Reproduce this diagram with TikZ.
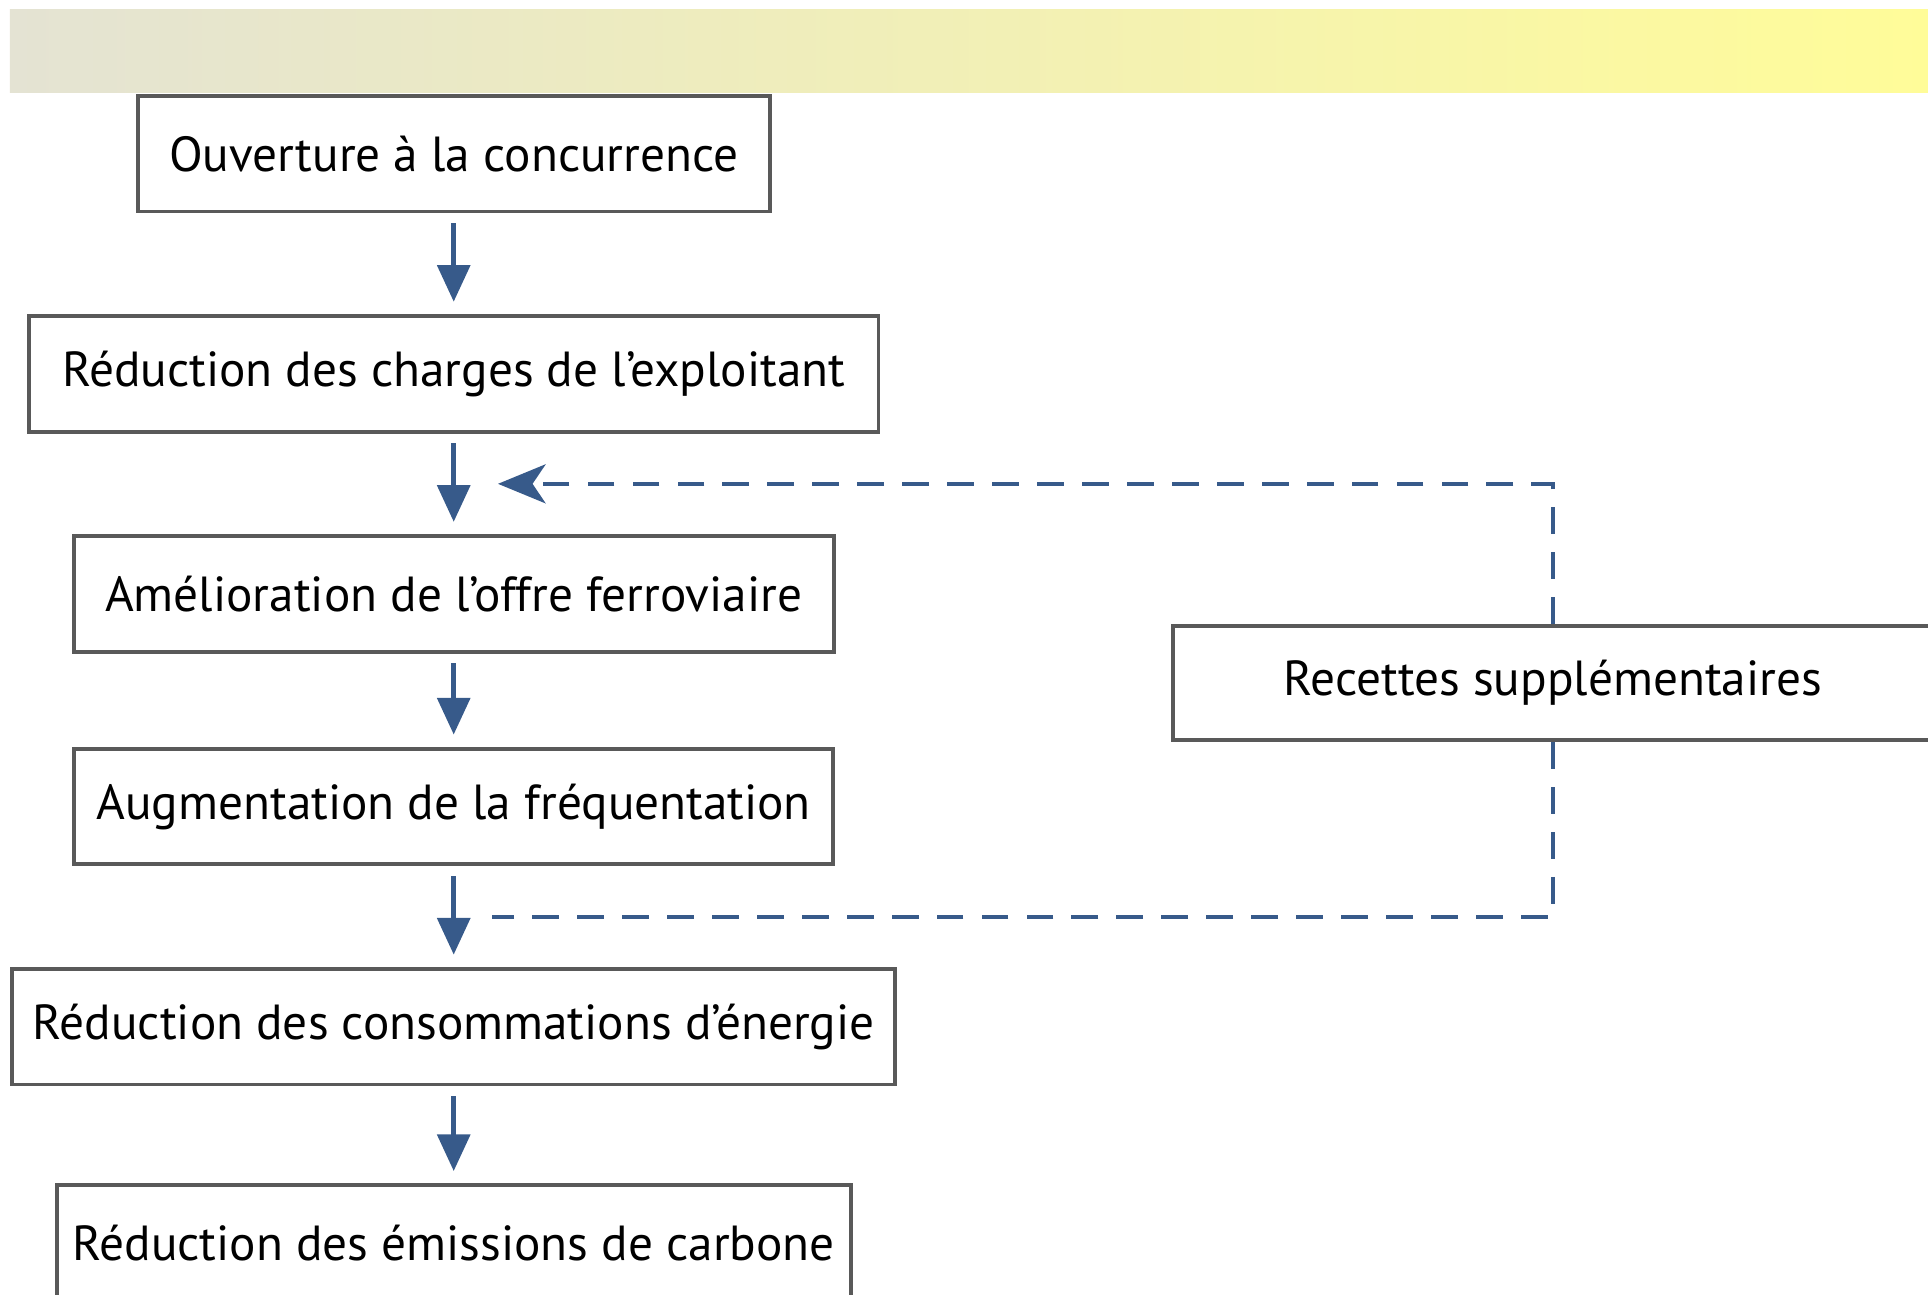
\documentclass[tikz,border=0pt]{standalone}
\usepackage{fontspec}
\setmainfont{PT Sans}
\usetikzlibrary{positioning, calc, arrows.meta}
\definecolor{flowblue}{HTML}{375A8A}
\definecolor{bandleft}{HTML}{E4E3D3}
\definecolor{bandright}{HTML}{FFFC99}

\begin{document}
\begin{tikzpicture}[x=0.1mm, y=-0.1mm,
    box/.style={draw=black!65, line width=0.9pt, fill=white, inner sep=0pt,
      minimum height=9.4mm, font=\fontsize{11.4}{13}\selectfont},
    flow/.style={flowblue, line width=1.2pt, shorten <=0.8mm, shorten >=1mm,
      -{Triangle[length=8.5pt, width=7.5pt]}},
    loop/.style={flowblue, line width=1pt, dash pattern=on 6.2pt off 4.2pt}]
    \useasboundingbox (0,0) rectangle (1568,1053);
    \shade[left color=bandleft, right color=bandright] (8,8) rectangle (1568,75);

    \node[box, minimum width=51.4mm] (A) at (369,125)  {Ouverture à la concurrence};
    \node[box, minimum width=69.1mm] (B) at (369,304)  {Réduction des charges de l’exploitant};
    \node[box, minimum width=61.8mm] (C) at (369,483)  {Amélioration de l’offre ferroviaire};
    \node[box, minimum width=61.7mm] (D) at (369,656)  {Augmentation de la fréquentation};
    \node[box, minimum width=71.8mm] (E) at (369,835)  {Réduction des consommations d’énergie};
    \node[box, minimum width=64.6mm] (F) at (369,1011) {Réduction des émissions de carbone};
    \node[box, minimum width=61.8mm, minimum height=9.3mm] (R) at (1263,555.5) {Recettes supplémentaires};

    \draw[flow] (A) -- (B);
    \draw[flow] (B) -- (C);
    \draw[flow] (C) -- (D);
    \draw[flow] (D) -- (E);
    \draw[flow] (E) -- (F);

    \coordinate (P) at ($(B.south)!0.5!(C.north)+(36,0)$);
    \coordinate (Q) at ($(D.south)!0.5!(E.north)+(31,0)$);
    \draw[loop, -{Stealth[length=11pt, width=9pt, inset=3pt]}] (R.north) |- (P);
    \draw[loop] (R.south) |- (Q);
\end{tikzpicture}
\end{document}
